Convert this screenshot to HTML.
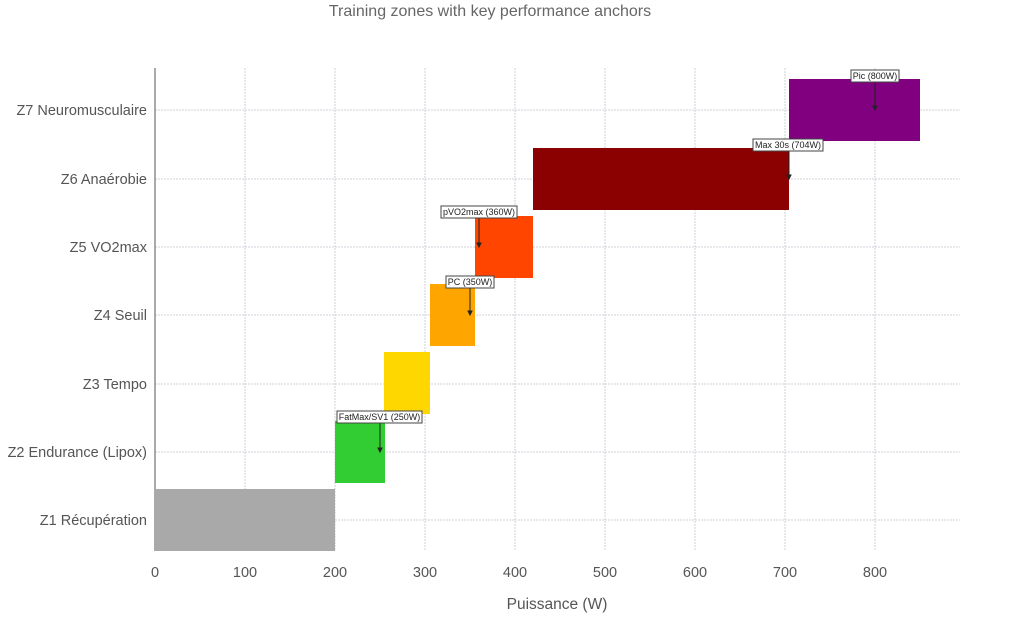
<!DOCTYPE html>
<html><head><meta charset="utf-8"><style>body{margin:0;background:#fff}svg{display:block}text{font-family:"Liberation Sans",sans-serif}</style></head><body>
<svg width="1012" height="618" viewBox="0 0 1012 618">
<text x="490" y="16" font-size="16" fill="#666" text-anchor="middle">Training zones with key performance anchors</text>
<g stroke="#d0d0d8" stroke-width="1" stroke-dasharray="2,1">
<line x1="245" y1="68" x2="245" y2="551"/><line x1="335" y1="68" x2="335" y2="551"/><line x1="425" y1="68" x2="425" y2="551"/><line x1="515" y1="68" x2="515" y2="551"/><line x1="605" y1="68" x2="605" y2="551"/><line x1="695" y1="68" x2="695" y2="551"/><line x1="785" y1="68" x2="785" y2="551"/><line x1="875" y1="68" x2="875" y2="551"/>
<line x1="155" y1="110" x2="960" y2="110"/><line x1="155" y1="179" x2="960" y2="179"/><line x1="155" y1="247" x2="960" y2="247"/><line x1="155" y1="315" x2="960" y2="315"/><line x1="155" y1="384" x2="960" y2="384"/><line x1="155" y1="452" x2="960" y2="452"/><line x1="155" y1="520" x2="960" y2="520"/>
</g>
<line x1="155" y1="68" x2="155" y2="551" stroke="#555" stroke-width="1"/>
<rect x="155" y="489" width="180" height="62" fill="#a9a9a9"/>
<rect x="335" y="421" width="50" height="62" fill="#32cd32"/>
<rect x="384" y="352" width="46" height="62" fill="#ffd700"/>
<rect x="430" y="284" width="45" height="62" fill="#ffa500"/>
<rect x="475" y="216" width="58" height="62" fill="#ff4500"/>
<rect x="533" y="148" width="256" height="62" fill="#8b0000"/>
<rect x="789" y="79" width="131" height="62" fill="#800080"/>
<g font-size="14.5" fill="#555" text-anchor="end">
<text x="147" y="115">Z7 Neuromusculaire</text><text x="147" y="184">Z6 Anaérobie</text><text x="147" y="252">Z5 VO2max</text><text x="147" y="320">Z4 Seuil</text><text x="147" y="389">Z3 Tempo</text><text x="147" y="457">Z2 Endurance (Lipox)</text><text x="147" y="525">Z1 Récupération</text>
</g>
<g font-size="14.5" fill="#555" text-anchor="middle">
<text x="155" y="577">0</text><text x="245" y="577">100</text><text x="335" y="577">200</text><text x="425" y="577">300</text><text x="515" y="577">400</text><text x="605" y="577">500</text><text x="695" y="577">600</text><text x="785" y="577">700</text><text x="875" y="577">800</text>
</g>
<text x="557" y="609" font-size="15.5" fill="#555" text-anchor="middle">Puissance (W)</text>
<g stroke="#222" stroke-width="1" font-size="9" fill="#222">
<line x1="479" y1="218" x2="479" y2="245"/><polygon points="477,243 481,243 479,247" fill="#222"/>
<line x1="470" y1="288" x2="470" y2="313"/><polygon points="468,311 472,311 470,315" fill="#222"/>
<line x1="380" y1="423" x2="380" y2="450"/><polygon points="378,448 382,448 380,452" fill="#222"/>
<line x1="789" y1="151" x2="789" y2="177"/><polygon points="787,175 791,175 789,179" fill="#222"/>
<line x1="875" y1="82" x2="875" y2="108"/><polygon points="873,106 877,106 875,110" fill="#222"/>
</g>
<g font-size="9" fill="#222">
<rect x="441" y="206" width="76" height="12" fill="#fff" stroke="#444"/><text x="479" y="215" text-anchor="middle">pVO2max (360W)</text>
<rect x="446" y="276" width="48" height="12" fill="#fff" stroke="#444"/><text x="470" y="285" text-anchor="middle">PC (350W)</text>
<rect x="337" y="411" width="85" height="12" fill="#fff" stroke="#444"/><text x="379.5" y="420" text-anchor="middle">FatMax/SV1 (250W)</text>
<rect x="753" y="139" width="70" height="12" fill="#fff" stroke="#444"/><text x="788" y="148" text-anchor="middle">Max 30s (704W)</text>
<rect x="851" y="70" width="48" height="12" fill="#fff" stroke="#444"/><text x="875" y="79" text-anchor="middle">Pic (800W)</text>
</g>
</svg>
</body></html>
